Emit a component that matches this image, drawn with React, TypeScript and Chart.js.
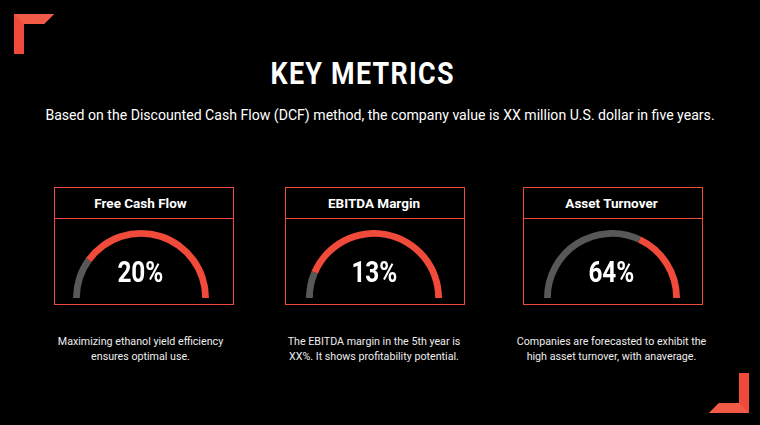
import React, { useEffect, useRef } from "react";
import { Chart, registerables } from "chart.js";
Chart.register(...registerables);

const titles = ["Free Cash Flow", "EBITDA Margin", "Asset Turnover"];
const values = [20, 13, 64];
const descLine1 = [
  "Maximizing ethanol yield efficiency",
  "The EBITDA margin in the 5th year is",
  "Companies are forecasted to exhibit the",
];
const descLine2 = [
  "ensures optimal use.",
  "XX%. It shows profitability potential.",
  "high asset turnover, with anaverage.",
];
const boxLefts = [54, 285, 523];
const gaugeCenters = [140.5, 374, 611.5];
const boxWidth = 180;

const RED = "#EF4A3A";
const GRAY = "#585858";

function Gauge({ value }: { value: number }) {
  const ref = useRef<HTMLCanvasElement>(null);
  useEffect(() => {
    if (!ref.current) return;
    const chart = new Chart(ref.current, {
      type: "doughnut",
      data: {
        labels: ["Value", "Remainder"],
        datasets: [
          {
            data: [value, 100 - value],
            backgroundColor: [GRAY, RED],
            borderWidth: 0,
          },
        ],
      },
      options: {
        responsive: false,
        animation: false,
        rotation: -90,
        circumference: 180,
        cutout: "90%",
        layout: { padding: 0 },
        plugins: { legend: { display: false }, tooltip: { enabled: false } },
      },
    });
    return () => chart.destroy();
  }, [value]);
  return <canvas ref={ref} width={136} height={68} />;
}

function Bracket({ style, flip }: { style: React.CSSProperties; flip?: boolean }) {
  return (
    <svg width={40} height={40} style={{ position: "absolute", ...style, transform: flip ? "rotate(180deg)" : undefined }}>
      <polygon points="0,0 40,0 30,10 10,10 10,40 0,40" fill={RED} />
      <polygon points="10,10 30,10 40,0 0,0" fill="#F25A48" />
    </svg>
  );
}

const condensed: React.CSSProperties = {
  fontFamily: "Roboto, sans-serif",
  fontWeight: 700,
  display: "inline-block",
};

export default function App() {
  useEffect(() => {
    document.body.style.margin = "0";
  }, []);
  return (
    <div
      style={{
        position: "fixed",
        left: 0,
        top: 0,
        width: 760,
        height: 425,
        background: "#000",
        color: "#fff",
        fontFamily: "Roboto, sans-serif",
        overflow: "hidden",
      }}
    >
      <Bracket style={{ left: 14, top: 14 }} />
      <Bracket style={{ left: 709, top: 373 }} flip />
      <div
        style={{
          position: "absolute",
          left: 0,
          width: 726,
          top: 53,
          textAlign: "center",
          lineHeight: "40px",
        }}
      >
        <span style={{ ...condensed, fontSize: 32, transform: "scaleX(0.84)", letterSpacing: 1.5 }}>KEY METRICS</span>
      </div>
      <div
        style={{
          position: "absolute",
          left: 0,
          width: 760,
          top: 105,
          textAlign: "center",
          fontSize: 14.1,
          lineHeight: "20px",
        }}
      >
        Based on the Discounted Cash Flow (DCF) method, the company value is XX million U.S. dollar in five years.
      </div>
      {titles.map((t, i) => {
        const left = boxLefts[i];
        const gc = gaugeCenters[i];
        return (
          <React.Fragment key={t}>
            <div
              style={{
                position: "absolute",
                left,
                top: 187,
                width: boxWidth,
                height: 118,
                border: `1px solid ${RED}`,
                boxSizing: "border-box",
              }}
            >
              <div
                style={{
                  height: 30,
                  borderBottom: `1px solid ${RED}`,
                }}
              />
              <div style={{ position: "absolute", left: gc - 68 - left - 1, top: 42 }}>
                <Gauge value={values[i]} />
              </div>
            </div>
            <div
              style={{
                position: "absolute",
                left: gc - 80,
                width: 160,
                top: 188,
                textAlign: "center",
                fontWeight: 700,
                fontSize: 13.5,
                lineHeight: "30px",
              }}
            >
              {t}
            </div>
            <div
              style={{
                position: "absolute",
                left: gc - 60,
                width: 120,
                top: 252,
                textAlign: "center",
                lineHeight: "40px",
              }}
            >
              <span style={{ ...condensed, fontSize: 29, transform: "scaleX(0.84)" }}>{values[i]}%</span>
            </div>
            <div
              style={{
                position: "absolute",
                left: gc - 120,
                width: 240,
                top: 334,
                textAlign: "center",
                fontSize: 10.7,
                lineHeight: "15px",
                color: "#eee",
              }}
            >
              <div>{descLine1[i]}</div>
              <div>{descLine2[i]}</div>
            </div>
          </React.Fragment>
        );
      })}
    </div>
  );
}
